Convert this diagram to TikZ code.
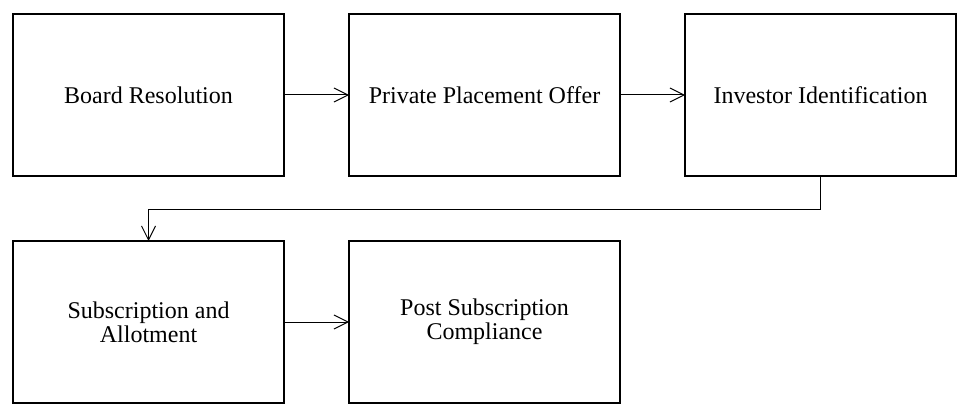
\documentclass[tikz,border=0pt]{standalone}
\usepackage{fontspec}
\setmainfont{Liberation Serif}
\usetikzlibrary{positioning,arrows.meta}
\begin{document}
\begin{tikzpicture}[
  stagebox/.style={draw, line width=1pt, minimum width=135.5pt, minimum height=81pt,
    outer sep=0pt, align=center, inner sep=0pt, font=\fontsize{12}{12.2}\selectfont},
  flow/.style={line width=0.5pt, -{Straight Barb[length=7pt,width=7pt,line width=0.5pt]}},
  node distance=32.5pt
]
  \useasboundingbox (0,0) rectangle (486.5pt,209pt);
  \node[stagebox] (board) at (74.25pt,161.5pt) {Board Resolution};
  \node[stagebox, right=of board] (offer) {Private Placement Offer};
  \node[stagebox, right=of offer] (investor) {Investor Identification};
  \node[stagebox, below=of board] (allot) {Subscription and\\Allotment};
  \node[stagebox, right=of allot] (post) {Post Subscription\\Compliance};
  \draw[flow] (board) -- (offer);
  \draw[flow] (offer) -- (investor);
  \coordinate (bend) at (investor.south |- 0,104.5pt);
  \draw[flow] (investor.south) -- (bend) -| (allot.north);
  \draw[flow] (allot) -- (post);
\end{tikzpicture}
\end{document}
